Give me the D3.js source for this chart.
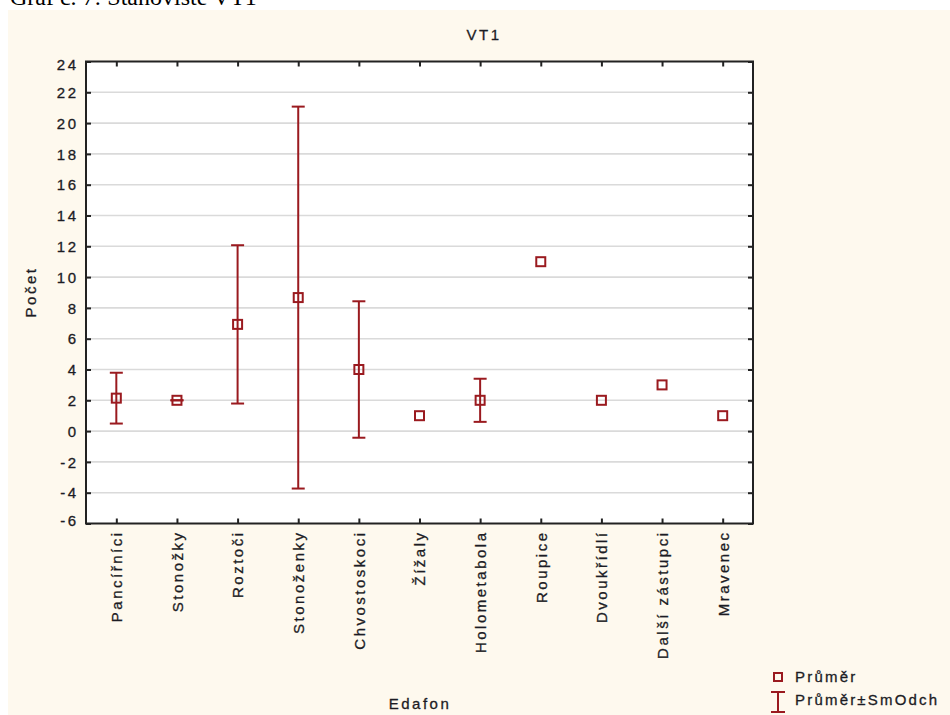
<!DOCTYPE html>
<html>
<head>
<meta charset="utf-8">
<script src="https://cdn.jsdelivr.net/npm/d3@7"></script>
<style>
  html, body { margin: 0; padding: 0; background: #ffffff; }
  svg { display: block; }
  text { font-family: Arial, "Liberation Sans", sans-serif; fill: #1c1c24; }
  .lbl { stroke: #1c1c24; stroke-width: 0.3px; }
</style>
</head>
<body>
<svg id="chart" width="950" height="715"></svg>
<script>
// Edafon counts at site VT1: mean per group and standard deviation (null = single sample)
const categories = ["Pancířníci", "Stonožky", "Roztoči", "Stonoženky", "Chvostoskoci",
                    "Žížaly", "Holometabola", "Roupice", "Dvoukřídlí", "Další zástupci", "Mravenec"];
const means = [2.14, 2, 6.93, 8.67, 4, 1, 2, 11, 2, 3, 1];
const sds   = [1.65, 0, 5.14, 12.4, 4.43, null, 1.4, null, null, null, null];
const yTicks = [-6, -4, -2, 0, 2, 4, 6, 8, 10, 12, 14, 16, 18, 20, 22, 24];

const dark = "#9a1a1f";
const frame = { left: 86, right: 753, top: 61.5, bottom: 523.5 };

const svg = d3.select("#chart");

// caption above the chart panel
svg.append("text")
  .attr("x", 10).attr("y", 5)
  .style("font-family", "'Times New Roman', 'Liberation Serif', serif")
  .style("font-size", "24px").style("fill", "#000")
  .text("Graf č. 7: Stanoviště VT1");

// panel background
svg.append("rect")
  .attr("x", 8).attr("y", 10).attr("width", 942).attr("height", 705)
  .attr("fill", "#fef9ee");

// plot area
svg.append("rect")
  .attr("x", frame.left).attr("y", frame.top)
  .attr("width", frame.right - frame.left).attr("height", frame.bottom - frame.top)
  .attr("fill", "#ffffff");

const x = d3.scalePoint().domain(categories).range([frame.left, frame.right]).padding(0.5);
const y = d3.scaleLinear().domain([-6, 24]).range([frame.bottom, frame.top]);

// horizontal grid
svg.append("g").selectAll("line")
  .data(yTicks.filter(t => t > -6 && t < 24))
  .join("line")
  .attr("x1", frame.left).attr("x2", frame.right)
  .attr("y1", d => y(d)).attr("y2", d => y(d))
  .attr("stroke", "#dadada").attr("stroke-width", 1.6);

function styleTicks(g) {
  g.select(".domain").remove();
  g.selectAll(".tick line").attr("stroke", "#222").attr("stroke-width", 2);
}

// inward tick marks on all four sides
svg.append("g").attr("transform", `translate(${frame.left},0)`)
  .call(d3.axisRight(y).tickValues(yTicks).tickSize(5).tickFormat(""))
  .call(styleTicks);
svg.append("g").attr("transform", `translate(${frame.right},0)`)
  .call(d3.axisLeft(y).tickValues(yTicks).tickSize(5).tickFormat(""))
  .call(styleTicks);
svg.append("g").attr("transform", `translate(0,${frame.top})`)
  .call(d3.axisBottom(x).tickSize(5).tickFormat(""))
  .call(styleTicks);
svg.append("g").attr("transform", `translate(0,${frame.bottom})`)
  .call(d3.axisTop(x).tickSize(5).tickFormat(""))
  .call(styleTicks);

// y tick labels (plain hyphen for negatives)
const yLab = svg.append("g").attr("transform", `translate(${frame.left},0)`)
  .call(d3.axisLeft(y).tickValues(yTicks).tickSize(0).tickPadding(7.5).tickFormat(d => String(d)));
yLab.select(".domain").remove();
yLab.selectAll(".tick text")
  .attr("class", "lbl")
  .style("font-size", "15px").style("letter-spacing", "2.5px")
  .attr("fill", "#1c1c24")
  .attr("dy", d => d === 24 ? "0.55em" : d === -6 ? "0.12em" : "0.34em");

// category labels, rotated
const xLab = svg.append("g").attr("transform", `translate(0,${frame.bottom})`)
  .call(d3.axisBottom(x).tickSize(0).tickPadding(0));
xLab.select(".domain").remove();
xLab.selectAll(".tick text")
  .attr("class", "lbl")
  .style("font-size", "15px").style("letter-spacing", "2.5px")
  .attr("fill", "#1c1c24")
  .attr("text-anchor", "end")
  .attr("transform", "rotate(-90)")
  .attr("x", -7).attr("y", 0).attr("dy", "0.36em");

// frame
svg.append("rect")
  .attr("x", frame.left).attr("y", frame.top)
  .attr("width", frame.right - frame.left).attr("height", frame.bottom - frame.top)
  .attr("fill", "none").attr("stroke", "#222").attr("stroke-width", 2);

// titles
svg.append("text").attr("class", "lbl").attr("x", 484).attr("y", 40).attr("text-anchor", "middle")
  .style("font-size", "15px").style("letter-spacing", "2.5px").text("VT1");
svg.append("text").attr("class", "lbl").attr("x", 420).attr("y", 709).attr("text-anchor", "middle")
  .style("font-size", "15px").style("letter-spacing", "2.5px").text("Edafon");
svg.append("text").attr("class", "lbl").attr("transform", "translate(36,292) rotate(-90)").attr("text-anchor", "middle")
  .style("font-size", "15px").style("letter-spacing", "2.5px").text("Počet");

// error bars: mean ± SD
const rows = categories.map((c, i) => ({ c, m: means[i], s: sds[i] }));
const cap = 6.5;
const eb = svg.append("g").attr("stroke", dark).attr("stroke-width", 2).attr("fill", "none");
rows.filter(r => r.s !== null).forEach(r => {
  const cx = x(r.c), hi = y(r.m + r.s), lo = y(r.m - r.s);
  eb.append("line").attr("x1", cx).attr("x2", cx).attr("y1", hi).attr("y2", lo);
  eb.append("line").attr("x1", cx - cap).attr("x2", cx + cap).attr("y1", hi).attr("y2", hi);
  eb.append("line").attr("x1", cx - cap).attr("x2", cx + cap).attr("y1", lo).attr("y2", lo);
});

// mean markers
svg.append("g").selectAll("rect")
  .data(rows).join("rect")
  .attr("x", d => x(d.c) - 4.5).attr("y", d => y(d.m) - 4.5)
  .attr("width", 9).attr("height", 9)
  .attr("fill", "none").attr("stroke", dark).attr("stroke-width", 2);

// legend
const lg = svg.append("g");
lg.append("rect").attr("x", 774).attr("y", 673).attr("width", 8).attr("height", 8)
  .attr("fill", "none").attr("stroke", dark).attr("stroke-width", 2);
lg.append("text").attr("class", "lbl").attr("x", 795).attr("y", 682).style("font-size", "15px")
  .style("letter-spacing", "2.2px").text("Průměr");
const ib = lg.append("g").attr("stroke", dark).attr("stroke-width", 2);
ib.append("line").attr("x1", 778).attr("x2", 778).attr("y1", 692).attr("y2", 712);
ib.append("line").attr("x1", 771).attr("x2", 785).attr("y1", 692).attr("y2", 692);
ib.append("line").attr("x1", 771).attr("x2", 785).attr("y1", 712).attr("y2", 712);
lg.append("text").attr("class", "lbl").attr("x", 795).attr("y", 705).style("font-size", "15px")
  .style("letter-spacing", "2.2px").text("Průměr±SmOdch");
</script>
</body>
</html>
